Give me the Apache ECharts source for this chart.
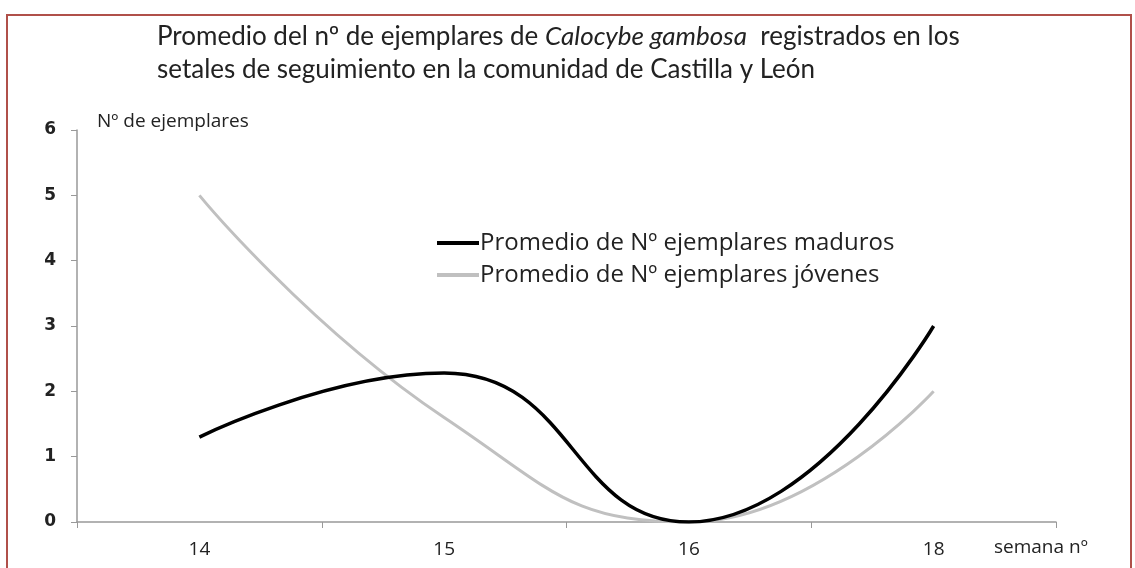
<!DOCTYPE html>
<html><head><meta charset="utf-8">
<script src="https://cdn.jsdelivr.net/npm/echarts@6/dist/echarts.min.js"></script>
<style>html,body{margin:0;padding:0;background:#fff}#c{width:1135px;height:568px}</style>
</head><body><div id="c"></div>
<script>
const categories = ['14', '15', '16', '18'];
const maduros = [1.3, 2.28, 0, 3];
const jovenes = [5, 1.6, 0, 2];
const yTicks = [0, 1, 2, 3, 4, 5, 6];
const seriesNames = ['Promedio de Nº ejemplares maduros', 'Promedio de Nº ejemplares jóvenes'];

const chart = echarts.init(document.getElementById('c'));
const font = 'Open Sans, Noto Sans, sans-serif';
const tfont = 'Lato, Open Sans, sans-serif';
chart.setOption({
  animation: false,
  graphic: [{
    type: 'rect', shape: {x: 7, y: 15, width: 1124, height: 620},
    style: {fill: 'none', stroke: '#b0504a', lineWidth: 2}
  }],
  title: {
    left: 152, top: 15,
    text: '{a|Promedio del nº de ejemplares de }{i|Calocybe gambosa}{a|  registrados en los}\n{a|setales de seguimiento en la comunidad de Castilla y León}',
    textStyle: {
      fontWeight: 'normal',
      rich: {
        a: {fontFamily: tfont, fontSize: 26, fontWeight: 'normal', color: '#222', lineHeight: 33},
        i: {fontFamily: tfont, fontSize: 26, fontWeight: 'normal', color: '#222', fontStyle: 'italic', lineHeight: 33}
      }
    }
  },
  legend: {
    orient: 'vertical', left: 432, top: 226, itemGap: 8,
    itemWidth: 42, itemHeight: 4, icon: 'rect',
    textStyle: {fontFamily: font, fontSize: 24, color: '#222', padding: [0, 0, 0, -4]},
    data: seriesNames
  },
  grid: {left: 77, right: 79, top: 130, bottom: 46},
  xAxis: {
    type: 'category', data: categories, boundaryGap: true,
    name: 'semana nº', nameLocation: 'end', nameGap: 0,
    nameTextStyle: {fontFamily: font, fontSize: 19, color: '#222', verticalAlign: 'top', padding: [16, 0, 0, -62]},
    axisLine: {lineStyle: {color: '#999', width: 1.5}},
    axisTick: {show: true, length: 6, lineStyle: {color: '#999'}},
    axisLabel: {fontFamily: font, fontSize: 19, color: '#222', margin: 18},
    splitLine: {show: false}
  },
  yAxis: {
    type: 'value', min: 0, max: 6, interval: 1,
    name: 'Nº de ejemplares', nameLocation: 'end', nameGap: -1,
    nameTextStyle: {fontFamily: font, fontSize: 19, color: '#222', align: 'left', padding: [0, 0, 0, 20]},
    axisLine: {show: true, lineStyle: {color: '#999', width: 1.5}},
    axisTick: {show: true, length: 6, lineStyle: {color: '#999'}},
    axisLabel: {fontFamily: 'DejaVu Sans, sans-serif', fontSize: 17, fontWeight: 'bold', color: '#222', margin: 21,
      formatter: v => yTicks.includes(v) ? String(v) : ''},
    splitLine: {show: false}
  },
  series: [
    {name: seriesNames[0], type: 'line', data: maduros, smooth: 0.5, showSymbol: false,
     lineStyle: {color: '#000', width: 3.5}, itemStyle: {color: '#000'}, z: 3},
    {name: seriesNames[1], type: 'line', data: jovenes, smooth: 0.5, showSymbol: false,
     lineStyle: {color: '#c0c0c0', width: 3}, itemStyle: {color: '#c0c0c0'}, z: 2}
  ]
});
</script></body></html>
